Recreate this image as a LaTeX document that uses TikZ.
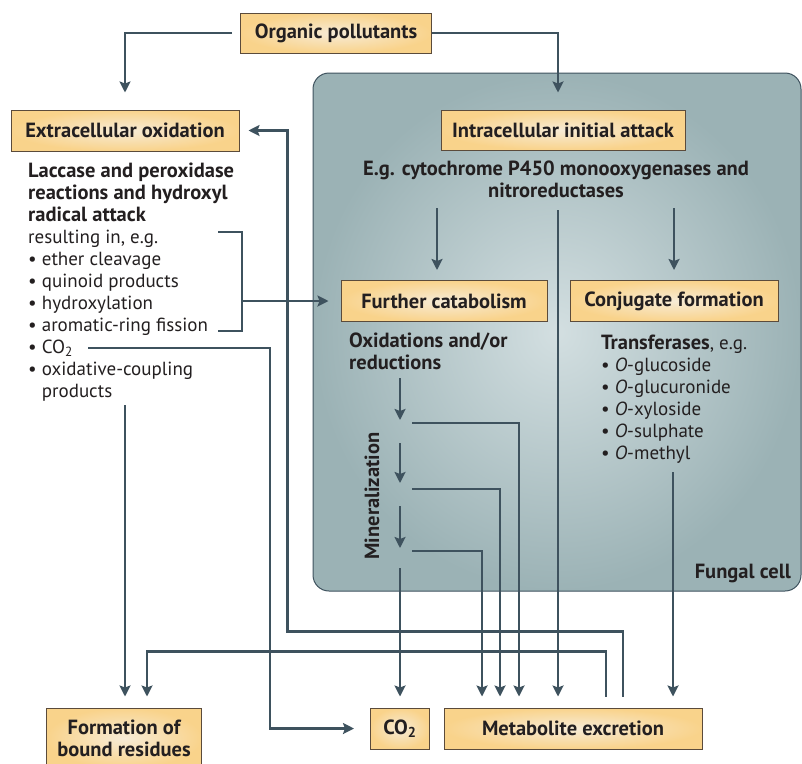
\documentclass[tikz,border=0pt]{standalone}
\usepackage{fontspec}
\setmainfont{PT Sans}
\usetikzlibrary{arrows.meta,positioning}
\definecolor{linec}{HTML}{3E525E}
\definecolor{boxin}{HTML}{F7EBD6}
\definecolor{boxout}{HTML}{F9D38B}
\definecolor{boxline}{HTML}{5B4B3B}
\definecolor{cellin}{HTML}{D3DFE1}
\definecolor{cellout}{HTML}{9BB2B5}
\definecolor{txt}{HTML}{231F20}
\newcommand\bigb{\fontsize{20.5}{22}\selectfont\bfseries}
\tikzset{
  box/.style={draw=boxline, line width=1pt, inner color=boxin, outer color=boxout,
    font=\bigb, text=txt, inner sep=0pt, align=center},
  flow/.style={draw=linec, line width=2.8pt, ->},
  bracket/.style={draw=linec, line width=2.8pt},
  note/.style={font=\fontsize{19}{22}\selectfont, text=txt, inner sep=0pt, align=left},
}
\begin{document}
\begin{tikzpicture}[x=1pt,y=-1pt,>={Stealth[length=11pt,width=11pt,inset=2pt]}]
   \useasboundingbox (0,0) rectangle (802,763);

   % 細胞
   \path[draw=linec, line width=1pt, rounded corners=16pt, inner color=cellin, outer color=cellout] (313,73) rectangle (801,591);
   \node [note, font=\bigb, anchor=base east] (cell) at (791,578) {Fungal cell};

   % 箱
   \node [box, minimum width=191pt, minimum height=40pt] (pol) at (336,33) {Organic pollutants};
   \node [box, minimum width=228pt, minimum height=41pt] (ext) at (125,130.5) {Extracellular oxidation};
   \node [box, minimum width=244pt, minimum height=40pt] (intra) at (563,130) {Intracellular initial attack};
   \node [box, minimum width=206pt, minimum height=41pt] (furth) at (444,301) {Further catabolism};
   \node [box, minimum width=208pt, minimum height=41pt] (conj) at (674,301) {Conjugate formation};
   \node [box, minimum width=155pt, minimum height=60pt] (bound) at (124,738) {Formation of\\bound residues};
   \node [box, minimum width=59pt, minimum height=41pt] (co2) at (400,728.5) {CO\textsubscript{2}};
   \node [box, minimum width=258pt, minimum height=41pt] (met) at (573,728.5) {Metabolite excretion};

   % 説明 (base = 最終行)
   \node [note, anchor=base west] (lac) at (28,397) {{\bigb Laccase and peroxidase}\\{\bigb reactions and hydroxyl}\\{\bigb radical attack}\\resulting in, e.g.\\• ether cleavage\\• quinoid products\\• hydroxylation\\• aromatic-ring fission\\• CO\textsubscript{2}\\• oxidative-coupling\\\hphantom{• }products};
   \node [note, align=center, font=\bigb, anchor=base] (eg) at (556,197) {E.g. cytochrome P450 monooxygenases and\\nitroreductases};
   \node [note, font=\bigb, anchor=base west] (oxr) at (349,369) {Oxidations and/or\\reductions};
   \node [note, anchor=base west] (trf) at (601,459) {{\bigb Transferases}, e.g.\\• \textit{O}-glucoside\\• \textit{O}-glucuronide\\• \textit{O}-xyloside\\• \textit{O}-sulphate\\• \textit{O}-methyl};
   \node [note, font=\bigb, rotate=90] (min) at (372,496) {Mineralization};

   % 矢印の端
   \coordinate (bt) at (218,232);
   \coordinate (bb) at (218,331);
   \coordinate (bm) at (242,301);
   \coordinate (co2a) at (88,348);
   \coordinate (oxp) at (125,405);
   \coordinate (eg1) at (437,208);
   \coordinate (eg2) at (558,210);
   \coordinate (eg3) at (674,208);
   \coordinate (cm) at (673,472);
   \coordinate (ox0) at (400,378);
   \coordinate (ox1) at (400,420);
   \coordinate (ox2) at (400,443);
   \coordinate (ox3) at (400,483);
   \coordinate (ox4) at (400,506);
   \coordinate (ox5) at (400,548);
   \coordinate (ox6) at (400,568);
   \coordinate (s1) at (412,423);
   \coordinate (s2) at (412,489);
   \coordinate (s3) at (412,551);

   % 矢印
   \draw [flow, shorten <=8pt, shorten >=17pt] (pol.west) -| (ext.north);
   \draw [flow, shorten >=17pt] (pol.east) -| ([xshift=-5pt]intra.north);
   \draw [bracket] (bt) -- ++(24,0) |- (bb);
   \draw [flow, shorten >=12pt] (bm) -- (furth.west);
   \draw [flow, shorten >=16pt] (co2a) -- ++(182,0) |- (co2.west);
   \draw [flow, shorten >=11pt] (oxp) -- (oxp |- bound.north);
   \draw [flow, shorten <=11pt, shorten >=9pt] ([xshift=50pt]met.north) -- ++(0,-76) -| ([xshift=48pt]ext.east) -- (ext.east);
   \draw [flow, shorten <=11pt, shorten >=11pt] ([xshift=33pt]met.north) -- ++(0,-56) -| ([xshift=23pt]bound.north);

   \draw [flow, shorten >=10pt] (eg1) -- (eg1 |- furth.north);
   \draw [flow, shorten >=10pt] (eg3) -- (eg3 |- conj.north);
   \draw [flow, shorten >=11pt] (eg2) -- (eg2 |- met.north);
   \draw [flow, shorten >=11pt] (cm) -- (cm |- met.north);

   \draw [flow] (ox0) -- (ox1);
   \draw [flow] (ox2) -- (ox3);
   \draw [flow] (ox4) -- (ox5);
   \draw [flow, shorten >=11pt] (ox6) -- (co2.north);
   \draw [flow, shorten >=11pt] (s1) -| ([xshift=-54pt]met.north);
   \draw [flow, shorten >=11pt] (s2) -| ([xshift=-73pt]met.north);
   \draw [flow, shorten >=11pt] (s3) -| ([xshift=-91pt]met.north);
\end{tikzpicture}
\end{document}
